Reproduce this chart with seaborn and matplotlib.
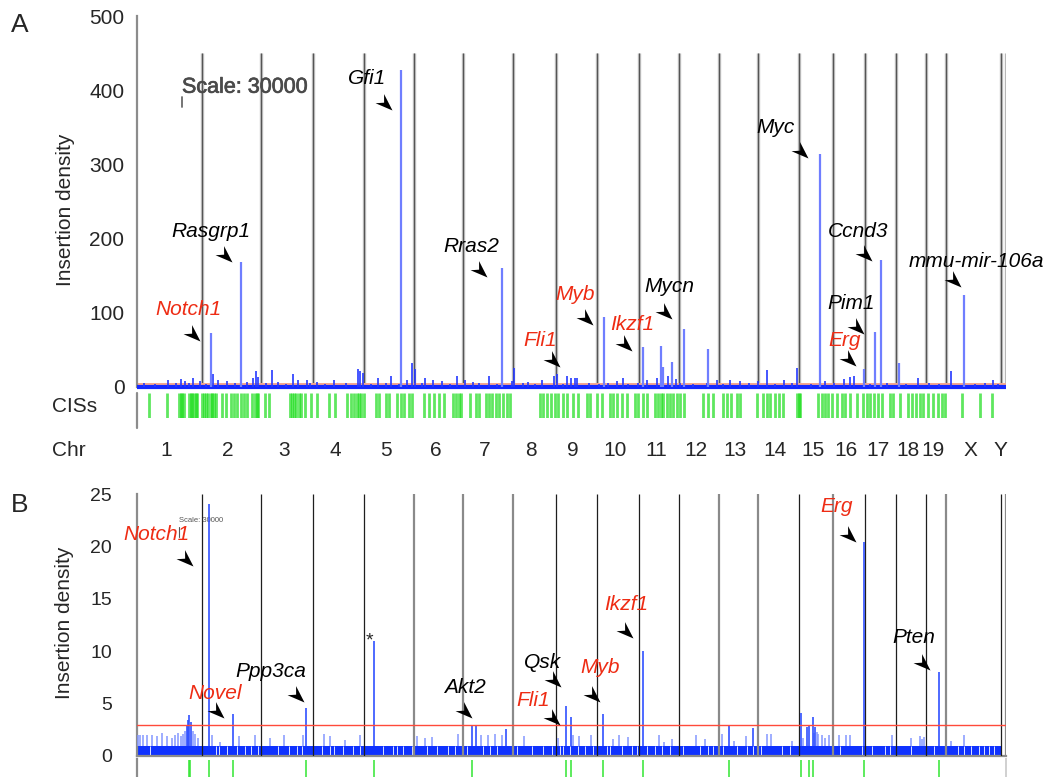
import numpy as np
import matplotlib
matplotlib.use("Agg")
import matplotlib.pyplot as plt
import matplotlib.transforms as mtransforms
import matplotlib.patheffects as pe
from matplotlib.path import Path
from matplotlib.transforms import Affine2D
from matplotlib.lines import Line2D
import seaborn as sns

sns.set_style("white")
plt.rcParams["font.family"] = ["Liberation Sans", "DejaVu Sans"]

# ---------------- genome layout (mouse, Mb) ----------------
CHROMS = ["1", "2", "3", "4", "5", "6", "7", "8", "9", "10", "11", "12",
          "13", "14", "15", "16", "17", "18", "19", "X", "Y"]
CHROM_LEN = [197.2, 181.7, 159.6, 155.6, 152.5, 149.5, 152.5, 131.7, 124.1,
             130.0, 121.8, 121.3, 120.3, 125.2, 103.5, 98.3, 95.3, 90.8,
             61.3, 166.7, 15.9]

# ---------------- panel A : all insertions ----------------
A_PEAK_POS = [226.2, 317.9, 807.0, 1115.8, 1427.6, 1546.8, 1601.9, 1608.0,
              1635.5, 1672.2, 1745.5, 2087.9, 2222.4, 2256.1, 2274.4, 2326.4,
              2525.1]
A_PEAK_VAL = [73, 168, 427, 160, 95, 54, 55, 27, 34, 78, 51, 314, 24, 74,
              171, 33, 124]

A_MINOR_POS = [94.8, 134.5, 146.7, 171.2, 192.6, 232.3, 247.6, 275.1, 336.3,
               354.6, 363.8, 369.9, 412.7, 431.0, 476.9, 492.2, 519.7, 550.3,
               602.2, 675.6, 681.7, 690.9, 736.7, 776.5, 825.4, 840.7, 849.8,
               880.4, 904.9, 932.4, 978.2, 1002.7, 1027.2, 1076.1, 1146.4,
               1152.5, 1195.3, 1238.1, 1274.8, 1284.0, 1314.5, 1326.7, 1339.0,
               1345.1, 1467.4, 1485.7, 1559.1, 1589.6, 1623.3, 1647.7, 1773.1,
               1812.8, 1843.4, 1898.4, 1925.9, 1977.9, 2017.6, 2103.2, 2161.3,
               2179.6, 2191.9, 2384.5, 2485.4, 2613.7,
               20, 55, 118, 160, 210, 300, 395, 455, 530, 575, 640, 715, 760,
               800, 870, 955, 1045, 1100, 1180, 1215, 1300, 1380, 1410, 1440,
               1500, 1530, 1660, 1700, 1740, 1790, 1870, 1950, 2000, 2060,
               2130, 2240, 2290, 2350, 2420, 2450, 2560, 2590, 2630]
A_MINOR_VAL = [9.4, 10.8, 8, 11.7, 8, 17, 9.4, 8, 7, 12.6, 21.5, 14, 23, 7,
               17.5, 9.4, 9.4, 6.4, 9.4, 24.3, 21, 18.5, 12, 14.3, 9.4, 32, 24,
               12.6, 9.4, 8, 15, 9.4, 7, 14.3, 8, 25, 7, 9.4, 15.3, 17, 15,
               12.6, 12.6, 12.6, 8, 12.6, 9.4, 11.7, 15, 11, 9.4, 9.4, 8, 8,
               23, 9.4, 25, 8, 11, 14, 15, 12.6, 22, 9.4,
               5, 4, 6, 5, 4.5, 5, 5.5, 4, 5, 4.5, 5, 4.5, 5, 4, 5, 4.5, 5, 4,
               5.5, 4, 4.5, 5, 4, 6, 4.5, 5, 5, 4.5, 5, 4, 5, 4.5, 5, 4, 5,
               4.5, 5, 4, 5, 4.5, 4, 5, 4]
A_THRESHOLD = 3.6

A_CIS = [37, 92, 129, 135, 138, 144, 159, 165, 168, 174, 181, 184, 199, 205,
         211, 217, 226, 229, 236, 242, 260, 272, 288, 297, 306, 318, 327, 337,
         352, 361, 367, 370, 392, 404, 468, 474, 480, 486, 496, 502, 514, 532,
         551, 587, 606, 642, 655, 664, 673, 679, 685, 694, 731, 740, 762, 771,
         795, 808, 817, 832, 841, 878, 893, 906, 924, 939, 964, 976, 985, 991,
         1016, 1037, 1046, 1065, 1074, 1083, 1098, 1107, 1117, 1129, 1138,
         1230, 1239, 1254, 1266, 1276, 1285, 1300, 1315, 1331, 1346, 1374,
         1383, 1404, 1422, 1444, 1453, 1465, 1481, 1496, 1520, 1530, 1545,
         1557, 1582, 1591, 1600, 1606, 1618, 1627, 1637, 1649, 1658, 1670,
         1728, 1744, 1759, 1790, 1802, 1814, 1832, 1842, 1894, 1912, 1924,
         1933, 1949, 1961, 1973, 2016, 2022, 2025, 2080, 2092, 2102, 2111,
         2123, 2138, 2154, 2163, 2178, 2199, 2218, 2230, 2239, 2251, 2264,
         2276, 2300, 2310, 2331, 2355, 2368, 2380, 2392, 2401, 2417, 2432,
         2447, 2459, 2469, 2521, 2576, 2612]

A_GENES = ["Notch1", "Rasgrp1", "Gfi1", "Rras2", "Fli1", "Myb", "Ikzf1",
           "Mycn", "Myc", "Ccnd3", "Pim1", "Erg", "mmu-mir-106a"]
A_GENE_RED = [True, False, False, False, True, True, True, False, False,
              False, False, True, False]

# ---------------- panel B : selected insertions ----------------
B_BASE = 1.0
B_THRESHOLD = 3.0
B_SPIKE_POS = [3.1, 9.2, 18.3, 30.6, 45.9, 61.1, 76.4, 91.7, 107.0, 116.2,
               125.4, 134.5, 140.6, 146.7, 152.9, 155.9, 159.0, 165.1, 171.2,
               177.3, 186.5, 220.1, 229.3, 253.7, 293.5, 311.8, 360.7, 406.6,
               449.4, 507.5, 516.6, 571.7, 590.0, 635.9, 681.7, 724.5, 856.0,
               880.4, 901.8, 981.3, 1024.1, 1036.3, 1051.6, 1073.0, 1094.4,
               1115.8, 1128.0, 1183.1, 1287.0, 1311.5, 1325.8, 1332.8, 1351.2,
               1387.9, 1424.6, 1455.1, 1473.5, 1501.0, 1546.8, 1595.8, 1611.0,
               1635.5, 1708.9, 1736.4, 1788.4, 1809.8, 1825.0, 1861.7, 1883.1,
               1925.9, 1938.1, 2002.3, 2029.8, 2035.9, 2048.1, 2054.3, 2066.5,
               2069.6, 2072.6, 2078.8, 2081.8, 2094.0, 2103.2, 2115.4, 2146.0,
               2167.4, 2179.6, 2222.0, 2308.0, 2366.1, 2390.6, 2396.7, 2405.8,
               2448.7, 2485.4, 2525.1]
B_SPIKE_VAL = [2, 2, 2, 2, 2, 1.9, 2.2, 1.9, 1.7, 2, 2.2, 1.9, 2.1, 2.4, 2.9,
               3.4, 3.9, 3.2, 2.4, 2.1, 1.7, 24, 2, 1.3, 4.0, 1.9, 2, 1.7, 2,
               2, 4.6, 2.1, 1.9, 1.5, 2, 11, 1.9, 1.7, 1.8, 2.1, 3.0, 3.0, 2,
               2, 2.1, 2, 2.6, 1.9, 1.7, 4.8, 3.75, 2, 1.9, 2, 4.0, 1.6, 2,
               1.8, 10, 2, 1.3, 1.6, 2, 1.6, 2.1, 3.0, 1.4, 1.9, 2.7, 2.1, 2.1,
               1.4, 4.1, 1.7, 2.8, 2.9, 3.75, 2.2, 2.8, 2.3, 2.1, 2, 1.7, 2, 2,
               2, 2, 20.4, 2, 1.7, 1.9, 1.6, 1.8, 8.0, 1.4, 2]
B_GAPS = [39.7, 241.5, 250.7, 275.1, 305.7, 330.2, 348.5, 369.9, 431.0,
          464.7, 489.1, 504.4, 565.5, 590.0, 602.2, 629.7, 660.3, 681.7, 752.0,
          782.6, 794.8, 813.2, 840.7, 886.5, 917.1, 950.7, 972.1, 1008.8,
          1057.7, 1079.1, 1100.5, 1161.7, 1207.5, 1241.1, 1268.7, 1293.1,
          1302.3, 1323.7, 1348.1, 1369.5, 1394.0, 1436.8, 1446.0, 1482.6,
          1513.2, 1528.5, 1559.1, 1583.5, 1604.9, 1629.4, 1669.1, 1721.1,
          1745.5, 1760.8, 1791.4, 1834.2, 1864.8, 1883.1, 1907.6, 1971.8,
          1996.2, 2149.1, 2216.3, 2246.9, 2286.6, 2301.9, 2363.1, 2433.4,
          2506.7, 2525.1, 2546.5, 2571.0, 2586.3, 2601.5, 2616.8]
B_CIS = [157.5, 160.5, 220.1, 293.5, 516.6, 724.5, 1024.1, 1311.5, 1326.8,
         1424.6, 1546.8, 1809.8, 2029.8, 2054.3, 2066.5, 2222.0, 2448.7]
B_LINE_DARK = [True, True, True, True, False, False, False, True, True, True,
               True, False, False, True, False, True, True, True, False, True,
               False]

B_GENES = ["Notch1", "Novel", "Ppp3ca", "Akt2", "Qsk", "Fli1", "Myb",
           "Ikzf1", "Erg", "Pten"]
B_GENE_RED = [True, True, False, False, False, True, True, True, True, False]

# label / arrow-tip placement (x in Mb, y in data units)
A_LABEL_XY = [(155.9, 103.8), (226.2, 210.2), (703.1, 416.4), (1021.0, 188.7),
              (1232.0, 62.0), (1339.0, 124.0), (1513.2, 83.6), (1626.3, 136.1),
              (1950.4, 350.4), (2204.1, 210.2), (2182.7, 111.9), (2161.3, 62.0),
              (2564.8, 168.5)]
A_TIP_XY = [(192.6, 62.0), (290.4, 168.5), (779.5, 373.3), (1070.0, 148.2),
            (1293.1, 27.0), (1394.0, 83.6), (1513.2, 48.5), (1635.5, 91.6),
            (2051.2, 308.6), (2246.9, 169.8), (2222.4, 71.4), (2198.0, 28.3),
            (2515.9, 134.8)]
B_LABEL_XY = [(59.0, 21.18), (237.2, 6.01), (409.6, 8.11), (1001.2, 6.49),
              (1239.9, 8.88), (1210.6, 5.34), (1415.1, 8.40), (1494.0, 14.50),
              (2137.5, 23.85), (2374.4, 11.26)]
B_TIP_XY = [(169.9, 18.13), (266.2, 3.63), (510.8, 5.15), (1024.4, 3.63),
            (1294.6, 6.58), (1291.5, 2.96), (1414.5, 5.15), (1514.5, 11.26),
            (2198.0, 20.42), (2421.6, 8.21)]

# ---------------- derived geometry ----------------
ends = np.cumsum(CHROM_LEN)
starts = ends - np.array(CHROM_LEN)
mids = (starts + ends) / 2
total = ends[-1]

RED = "#ee2c14"
GRAY = "#8c8c8c"
W_PX, H_PX = 1048, 777

fig = plt.figure(figsize=(W_PX / 100, H_PX / 100), dpi=100)


def fig_rect(x0, y_top, x1, y_bot):
    return [x0 / W_PX, 1 - y_bot / H_PX, (x1 - x0) / W_PX, (y_bot - y_top) / H_PX]


def arrowhead(angle):
    v = np.array([[0, 0], [-1, 0.36], [-0.66, 0], [-1, -0.36], [0, 0]], float)
    v = Affine2D().rotate_deg(angle).transform(v)
    codes = [Path.MOVETO, Path.LINETO, Path.LINETO, Path.LINETO, Path.CLOSEPOLY]
    return Path(v, codes), np.abs(v).max()


ARROW_PATH, ARROW_R = arrowhead(-43)
ARROW_MS = 2 * 12.5 * ARROW_R


def annotate(ax, names, reds, label_xy, tip_xy):
    for name, red, (tx, ty), (px, py) in zip(names, reds, label_xy, tip_xy):
        ax.text(tx, ty, name, fontsize=15, style="italic", ha="center",
                va="center", color=RED if red else "black", zorder=7)
        ax.plot([px], [py], marker=ARROW_PATH, ms=ARROW_MS, color="black",
                mew=0, linestyle="none", clip_on=False, zorder=7)


# ================= Panel A =================
axA = fig.add_axes(fig_rect(137, 16, 1006, 387))
axA.set_xlim(0, total)
axA.set_ylim(0, 500)
axA.vlines(ends, 0, 450, colors="#bdbdbd", lw=2.4, zorder=1)
axA.vlines(ends, 0, 450, colors="#555555", lw=0.8, zorder=1.1)
axA.axhline(A_THRESHOLD, color="#f5a58c", lw=1.4, zorder=2)
axA.plot([0, total], [0, 0], color="#1428ff", lw=3.0, clip_on=False,
         solid_capstyle="butt", zorder=3)
axA.vlines(A_MINOR_POS, 0, A_MINOR_VAL, colors="#2438ff", lw=1.2, zorder=3)
axA.vlines(A_PEAK_POS, 0, A_PEAK_VAL, colors="#6f7eff", lw=1.6, zorder=4)

for s in ["top", "right", "bottom"]:
    axA.spines[s].set_visible(False)
axA.spines["left"].set_color(GRAY)
axA.spines["left"].set_linewidth(1.6)
axA.set_xticks([])
axA.set_yticks([0, 100, 200, 300, 400, 500])
axA.tick_params(axis="y", direction="in", length=7, width=1.2, color=GRAY,
                pad=9, labelsize=15)
axA.set_ylabel("Insertion density", fontsize=15)
axA.yaxis.set_label_coords(-0.071, 0.477)

axA.text(330, 404, "Scale: 30000", fontsize=15.5, color="#4a4a4a",
         ha="center", va="center",
         path_effects=[pe.withStroke(linewidth=0.5, foreground="#4a4a4a")])
axA.plot([137.6, 137.6], [377.4, 390.8], color="#6a6a6a", lw=1.3)

annotate(axA, A_GENES, A_GENE_RED, A_LABEL_XY, A_TIP_XY)

# CIS track A
axAc = fig.add_axes(fig_rect(137, 393, 1006, 418))
axAc.set_xlim(0, total)
axAc.set_ylim(0, 1)
sns.rugplot(x=A_CIS, ax=axAc, height=1.0, color="#14dc14", linewidth=2.0,
            alpha=0.68, expand_margins=False)
for s in ["top", "right", "bottom", "left"]:
    axAc.spines[s].set_visible(False)
axAc.set_xticks([])
axAc.set_yticks([])
axAc.add_line(Line2D([0, 0], [-0.4, 1.0], transform=axAc.transAxes,
                     color=GRAY, lw=1.6, clip_on=False))

chr_tr = mtransforms.blended_transform_factory(axAc.transData, fig.transFigure)
for c, m in zip(CHROMS, mids):
    axAc.text(m - 10, 1 - 451 / H_PX, c, transform=chr_tr, fontsize=15,
              ha="center", va="center")
fig.text(52 / W_PX, 1 - 407 / H_PX, "CISs", fontsize=15, ha="left", va="center")
fig.text(52 / W_PX, 1 - 451 / H_PX, "Chr", fontsize=15, ha="left", va="center")

# ================= Panel B =================
axB = fig.add_axes(fig_rect(137, 494, 1006, 756))
axB.set_xlim(0, total)
axB.set_ylim(0, 25)
axB.fill_between([0, ends[-2]], 0, B_BASE, color="#0f32ff", lw=0, zorder=2)
axB.vlines(B_GAPS, 0, B_BASE, colors="white", lw=0.6, zorder=2.5)
for e, dark in zip(ends, B_LINE_DARK):
    if dark:
        axB.vlines(e, 0, 25, colors="#1e1e1e", lw=0.9, zorder=3)
    else:
        axB.vlines(e, 0, 25, colors="#8a8a8a", lw=1.6, zorder=3)
spike_pos = np.array(B_SPIKE_POS)
spike_val = np.array(B_SPIKE_VAL)
low = spike_val < 2.5
axB.vlines(spike_pos[low], B_BASE, spike_val[low], colors="#8497ff", lw=1.1,
           zorder=4)
axB.vlines(spike_pos[~low], B_BASE, spike_val[~low], colors="#3050ff", lw=1.2,
           zorder=4)
axB.axhline(B_THRESHOLD, color="#ff4a3a", lw=1.0, zorder=5)

for s in ["top", "right"]:
    axB.spines[s].set_visible(False)
for s in ["left", "bottom"]:
    axB.spines[s].set_color(GRAY)
    axB.spines[s].set_linewidth(1.6)
axB.set_xticks([])
axB.set_yticks([0, 5, 10, 15, 20, 25])
axB.tick_params(axis="y", direction="in", length=7, width=1.2, color=GRAY,
                pad=18, labelsize=14)
axB.set_ylabel("Insertion density", fontsize=15)
axB.yaxis.set_label_coords(-0.073, 0.508)

axB.text(194.7, 22.5, "Scale: 30000", fontsize=5.5, color="#555555",
         ha="center", va="center")
axB.plot([128.7, 128.7], [20.9, 21.85], color="#555555", lw=0.8)
axB.text(710.4, 10.97, "*", fontsize=14, ha="center", va="center")

annotate(axB, B_GENES, B_GENE_RED, B_LABEL_XY, B_TIP_XY)

# CIS track B
axBc = fig.add_axes(fig_rect(137, 759, 1006, 777))
axBc.set_xlim(0, total)
axBc.set_ylim(0, 1)
sns.rugplot(x=B_CIS, ax=axBc, height=0.95, color="#33e633", linewidth=1.3,
            alpha=0.85, expand_margins=False)
for s in ["top", "bottom"]:
    axBc.spines[s].set_visible(False)
axBc.spines["left"].set_color(GRAY)
axBc.spines["left"].set_linewidth(1.6)
axBc.spines["right"].set_color("#d0d0d0")
axBc.spines["right"].set_linewidth(1.4)
axBc.set_xticks([])
axBc.set_yticks([])

fig.text(20 / W_PX, 1 - 25 / H_PX, "A", fontsize=19, ha="center", va="center")
fig.text(20 / W_PX, 1 - 505 / H_PX, "B", fontsize=19, ha="center", va="center")

fig.savefig("out.png", dpi=100)
